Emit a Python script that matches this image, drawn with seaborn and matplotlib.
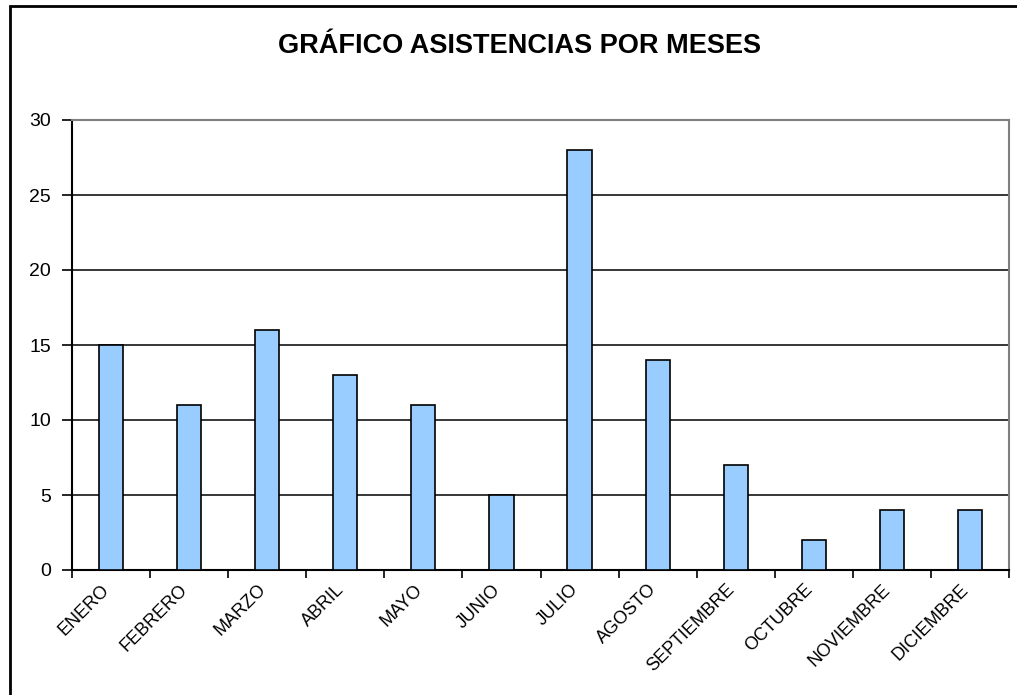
import numpy as np
import pandas as pd
import matplotlib
matplotlib.use("Agg")
import matplotlib.pyplot as plt
import matplotlib.transforms as mtransforms
import seaborn as sns
from matplotlib.patches import Rectangle

meses = ["ENERO", "FEBRERO", "MARZO", "ABRIL", "MAYO", "JUNIO", "JULIO",
         "AGOSTO", "SEPTIEMBRE", "OCTUBRE", "NOVIEMBRE", "DICIEMBRE"]
asistencias = [15, 11, 16, 13, 11, 5, 28, 14, 7, 2, 4, 4]
y_ticks = [0, 5, 10, 15, 20, 25, 30]

df = pd.DataFrame({"mes": meses, "asistencias": asistencias})

sns.set_theme(style="white")
plt.rcParams['font.family'] = ['Liberation Sans', 'DejaVu Sans']
plt.rcParams['text.color'] = 'black'
plt.rcParams['xtick.color'] = 'black'
plt.rcParams['ytick.color'] = 'black'

fig = plt.figure(figsize=(10.17, 6.95), dpi=100)
ax = fig.add_axes([72 / 1017, 1 - 570 / 695, (1009 - 72) / 1017, (570 - 120) / 695])

sns.barplot(data=df, x="mes", y="asistencias", color="#99CCFF", saturation=1,
            width=0.31, edgecolor="black", linewidth=1.2, ax=ax, zorder=3)

ax.set_ylim(0, 30)
ax.set_xlim(-0.5, len(meses) - 0.5)
ax.set_yticks(y_ticks)
ax.set_yticklabels([str(v) for v in y_ticks], fontsize=14, color="black")
ax.yaxis.grid(True, color="black", linewidth=1.1, zorder=0)
ax.set_axisbelow(True)

ax.set_xticks(range(len(meses)))
ax.set_xticklabels(meses, rotation=45, ha="right", rotation_mode="anchor",
                   fontsize=13, color="black")
ax.set_xticks(np.arange(-0.5, len(meses), 1.0), minor=True)
ax.tick_params(axis="x", which="major", length=0, pad=8)
ax.tick_params(axis="x", which="minor", length=6, width=1.2, color="black", direction="out", bottom=True)
ax.tick_params(axis="y", length=7, width=1.2, color="black", direction="out", left=True, pad=8)
ax.set_xlabel("")
ax.set_ylabel("")

# nudge the slanted month labels a little to the left, as in the original
shift = mtransforms.ScaledTranslation(-10 / 100, 0, fig.dpi_scale_trans)
for lbl in ax.get_xticklabels():
    lbl.set_transform(lbl.get_transform() + shift)

for side in ["left", "bottom"]:
    ax.spines[side].set_color("black")
    ax.spines[side].set_linewidth(1.5)
for side in ["top", "right"]:
    ax.spines[side].set_color("#808080")
    ax.spines[side].set_linewidth(1.5)

fig.text(520 / 1017, 1 - 46 / 695, "GRÁFICO ASISTENCIAS POR MESES",
         ha="center", va="center", fontsize=19.5, fontweight="bold", color="black")

fig.patches.append(Rectangle((10 / 1017, -0.1), 1.2, 1 - 6 / 695 + 0.1,
                             transform=fig.transFigure, fill=False,
                             edgecolor="black", linewidth=2))

fig.savefig("out.png", dpi=100)
